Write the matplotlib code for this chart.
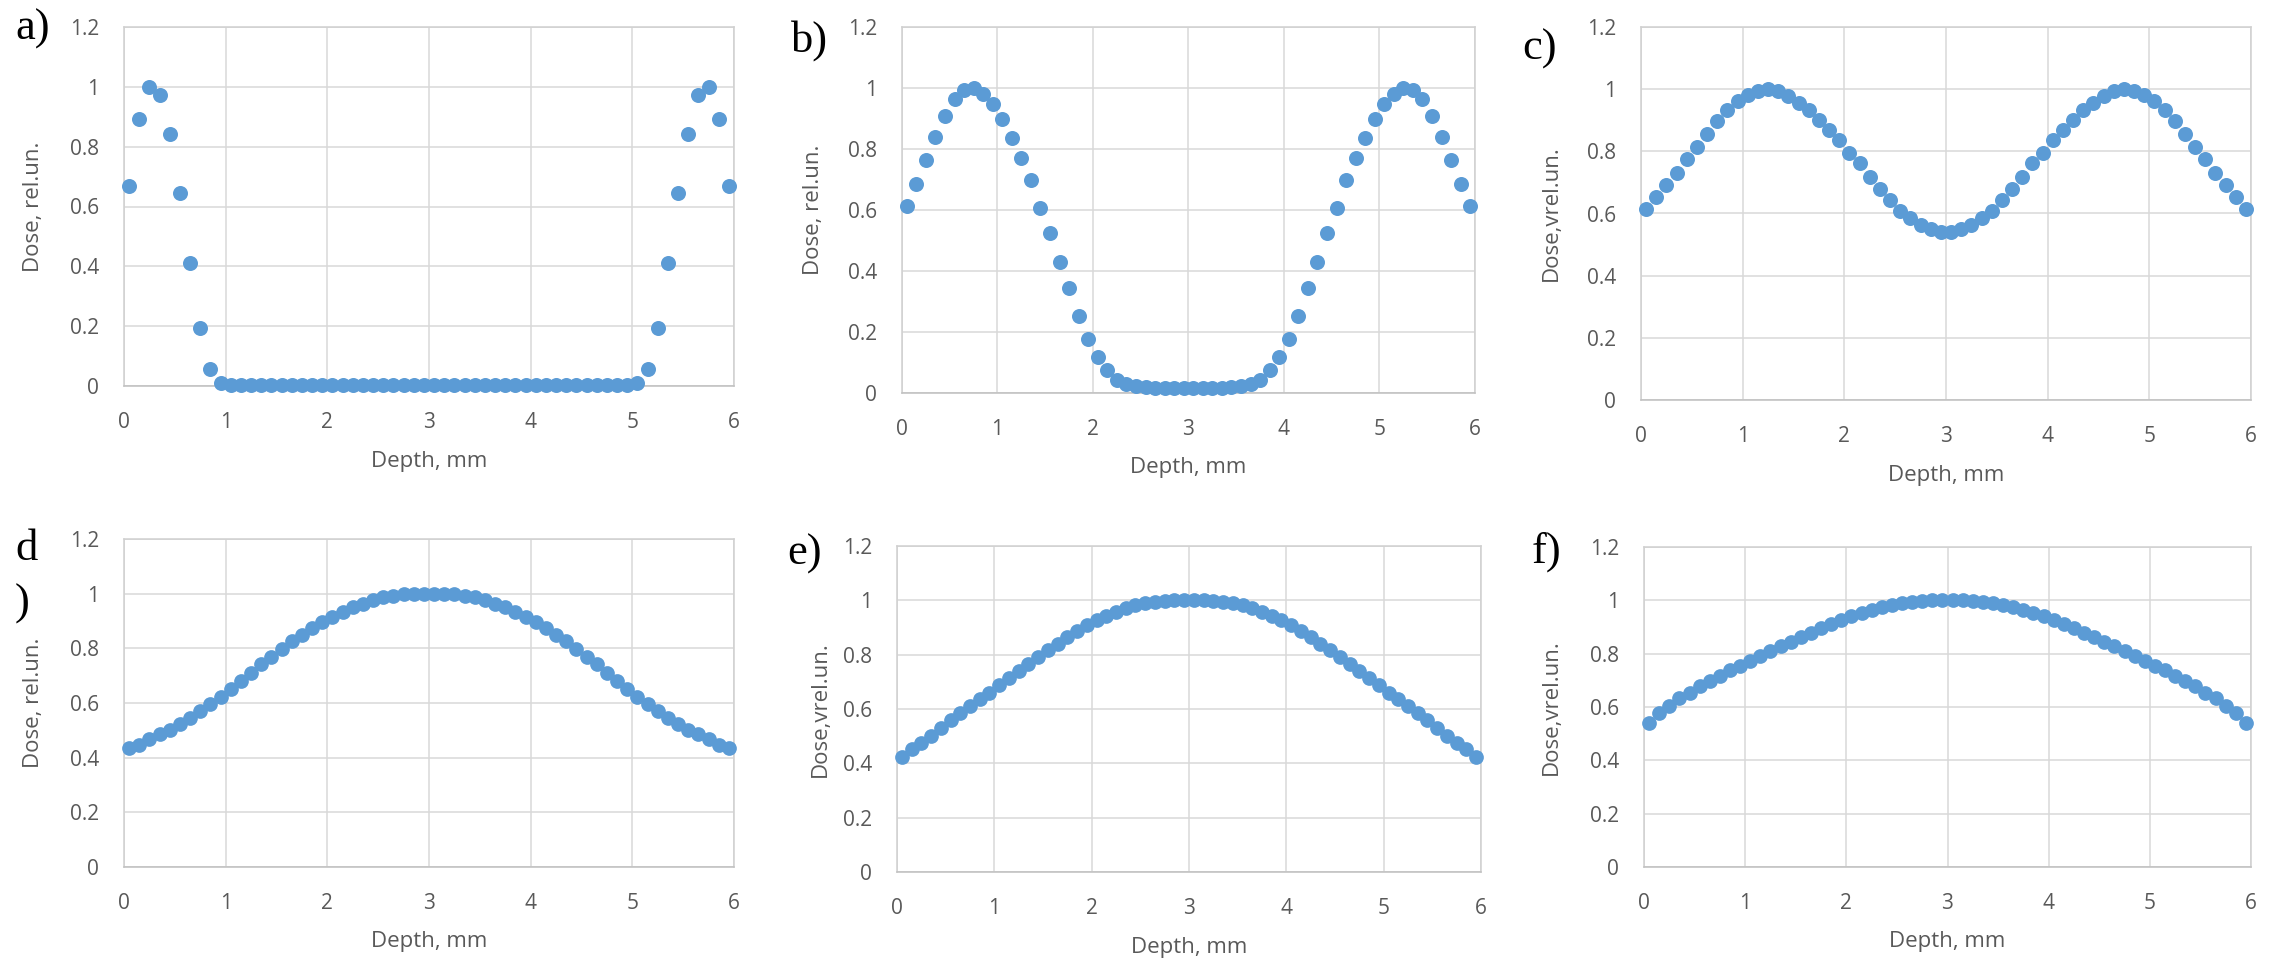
import matplotlib
matplotlib.use("Agg")
import matplotlib.pyplot as plt
from matplotlib.ticker import FuncFormatter

# Profundidad (mm) de cada punto medido
depth = [0.05, 0.15, 0.25, 0.35, 0.45, 0.55, 0.65, 0.75, 0.85, 0.95,
         1.05, 1.15, 1.25, 1.35, 1.45, 1.55, 1.65, 1.75, 1.85, 1.95,
         2.05, 2.15, 2.25, 2.35, 2.45, 2.55, 2.65, 2.75, 2.85, 2.95,
         3.05, 3.15, 3.25, 3.35, 3.45, 3.55, 3.65, 3.75, 3.85, 3.95,
         4.05, 4.15, 4.25, 4.35, 4.45, 4.55, 4.65, 4.75, 4.85, 4.95,
         5.05, 5.15, 5.25, 5.35, 5.45, 5.55, 5.65, 5.75, 5.85, 5.95]

dose_a = [0.670, 0.894, 1.000, 0.972, 0.841, 0.644, 0.410, 0.193, 0.057, 0.009,
          0.003, 0.002, 0.002, 0.002, 0.002, 0.002, 0.002, 0.002, 0.002, 0.002,
          0.002, 0.002, 0.002, 0.002, 0.002, 0.002, 0.002, 0.002, 0.002, 0.002,
          0.002, 0.002, 0.002, 0.002, 0.002, 0.002, 0.002, 0.002, 0.002, 0.002,
          0.002, 0.002, 0.002, 0.002, 0.002, 0.002, 0.002, 0.002, 0.002, 0.003,
          0.009, 0.057, 0.193, 0.410, 0.644, 0.841, 0.972, 1.000, 0.894, 0.670]

dose_b = [0.613, 0.685, 0.763, 0.840, 0.909, 0.964, 0.993, 1.000, 0.980, 0.949,
          0.898, 0.836, 0.769, 0.697, 0.605, 0.523, 0.430, 0.345, 0.254, 0.177,
          0.119, 0.074, 0.044, 0.029, 0.022, 0.019, 0.017, 0.016, 0.016, 0.016,
          0.016, 0.016, 0.016, 0.017, 0.019, 0.022, 0.029, 0.044, 0.074, 0.119,
          0.177, 0.254, 0.345, 0.430, 0.523, 0.605, 0.697, 0.769, 0.836, 0.898,
          0.949, 0.980, 1.000, 0.993, 0.964, 0.909, 0.840, 0.763, 0.685, 0.613]

dose_c = [0.614, 0.652, 0.691, 0.730, 0.774, 0.815, 0.855, 0.897, 0.932, 0.961,
          0.982, 0.994, 1.000, 0.994, 0.979, 0.956, 0.932, 0.902, 0.870, 0.838,
          0.795, 0.761, 0.716, 0.678, 0.643, 0.609, 0.584, 0.563, 0.549, 0.539,
          0.539, 0.549, 0.563, 0.584, 0.609, 0.643, 0.678, 0.716, 0.761, 0.795,
          0.838, 0.870, 0.902, 0.932, 0.956, 0.979, 0.994, 1.000, 0.994, 0.982,
          0.961, 0.932, 0.897, 0.855, 0.815, 0.774, 0.730, 0.691, 0.652, 0.614]

dose_d = [0.434, 0.448, 0.467, 0.485, 0.503, 0.524, 0.546, 0.570, 0.595, 0.621,
          0.652, 0.680, 0.710, 0.741, 0.768, 0.796, 0.826, 0.850, 0.875, 0.897,
          0.914, 0.933, 0.950, 0.963, 0.977, 0.987, 0.993, 0.998, 1.000, 1.000,
          1.000, 1.000, 0.998, 0.993, 0.987, 0.977, 0.963, 0.950, 0.933, 0.914,
          0.897, 0.875, 0.850, 0.826, 0.796, 0.768, 0.741, 0.710, 0.680, 0.652,
          0.621, 0.595, 0.570, 0.546, 0.524, 0.503, 0.485, 0.467, 0.448, 0.434]

dose_e = [0.423, 0.451, 0.475, 0.502, 0.531, 0.558, 0.584, 0.611, 0.635, 0.660,
          0.688, 0.715, 0.740, 0.767, 0.791, 0.816, 0.840, 0.865, 0.887, 0.908,
          0.926, 0.943, 0.958, 0.971, 0.982, 0.989, 0.995, 0.999, 1.000, 1.000,
          1.000, 1.000, 0.999, 0.995, 0.989, 0.982, 0.971, 0.958, 0.943, 0.926,
          0.908, 0.887, 0.865, 0.840, 0.816, 0.791, 0.767, 0.740, 0.715, 0.688,
          0.660, 0.635, 0.611, 0.584, 0.558, 0.531, 0.502, 0.475, 0.451, 0.423]

dose_f = [0.539, 0.577, 0.605, 0.633, 0.654, 0.677, 0.698, 0.718, 0.737, 0.755,
          0.774, 0.793, 0.810, 0.829, 0.845, 0.863, 0.879, 0.895, 0.911, 0.926,
          0.940, 0.953, 0.964, 0.974, 0.983, 0.989, 0.994, 0.998, 1.000, 1.000,
          1.000, 1.000, 0.998, 0.994, 0.989, 0.983, 0.974, 0.964, 0.953, 0.940,
          0.926, 0.911, 0.895, 0.879, 0.863, 0.845, 0.829, 0.810, 0.793, 0.774,
          0.755, 0.737, 0.718, 0.698, 0.677, 0.654, 0.633, 0.605, 0.577, 0.539]

xticks = [0, 1, 2, 3, 4, 5, 6]
yticks = [0, 0.2, 0.4, 0.6, 0.8, 1.0, 1.2]

plt.rcParams['font.family'] = ['Open Sans', 'DejaVu Sans']

W, H = 2279, 958
fig = plt.figure(figsize=(W / 100, H / 100), dpi=100)

blue = '#5B9BD5'
gray_text = '#595959'

# (datos, etiqueta y, letra, caja del eje en px [izq, arriba, der, abajo], x etiqueta y, tam. marcador)
panels = [
    (dose_a, 'Dose, rel.un.', 'a)', (124, 27, 734, 386), 34, 10.8),
    (dose_b, 'Dose, rel.un.', 'b)', (902, 27, 1475, 393), 813, 10.8),
    (dose_c, 'Dose,vrel.un.', 'c)', (1641, 27, 2251, 400), 1551, 10.8),
    (dose_d, 'Dose, rel.un.', 'd', (124, 539, 734, 867), 34, 10.6),
    (dose_e, 'Dose,vrel.un.', 'e)', (897, 546, 1481, 872), 820, 10.6),
    (dose_f, 'Dose,vrel.un.', 'f)', (1644, 547, 2251, 867), 1551, 10.6),
]

for dose, ylab, letter, (l, t, r, b), ylx, ms in panels:
    ax = fig.add_axes([l / W, 1 - b / H, (r - l) / W, (b - t) / H])
    ax.plot(depth, dose, 'o', color=blue, markersize=ms, markeredgewidth=0,
            clip_on=False, zorder=3)
    ax.set_xlim(0, 6)
    ax.set_ylim(0, 1.2)
    ax.set_xticks(xticks)
    ax.set_yticks(yticks)
    ax.yaxis.set_major_formatter(FuncFormatter(lambda v, p: '%g' % round(v, 1)))
    ax.grid(True, color='#D9D9D9', linewidth=1.1)
    ax.set_axisbelow(True)
    for s in ax.spines.values():
        s.set_color('#D0D0D0')
        s.set_linewidth(1.1)
    ax.spines['bottom'].set_color('#BFBFBF')
    ax.tick_params(length=0, labelsize=15, labelcolor=gray_text)
    ax.tick_params(axis='x', pad=18.5)
    ax.tick_params(axis='y', pad=18)
    # etiquetas de los ejes
    h = b - t
    ax.set_xlabel('Depth, mm', fontsize=16, color=gray_text, va='center')
    ax.xaxis.set_label_coords(0.5, -75 / h)
    fig.text(ylx / W, 1 - (t + b) / 2 / H, ylab, rotation=90, ha='center',
             va='center', fontsize=16, color=gray_text)

# letras de cada panel (Times)
serif = ['Liberation Serif', 'DejaVu Serif']
fig.text(15 / W, 1 - 40 / H, 'a)', family=serif, fontsize=32, va='baseline')
fig.text(791 / W, 1 - 52 / H, 'b)', family=serif, fontsize=32, va='baseline')
fig.text(1522 / W, 1 - 60 / H, 'c)', family=serif, fontsize=32, va='baseline')
fig.text(15 / W, 1 - 560 / H, 'd', family=serif, fontsize=32, va='baseline')
fig.text(15 / W, 1 - 615 / H, ')', family=serif, fontsize=32, va='baseline')
fig.text(787 / W, 1 - 565 / H, 'e)', family=serif, fontsize=32, va='baseline')
fig.text(1532 / W, 1 - 563 / H, 'f)', family=serif, fontsize=32, va='baseline')

fig.savefig('out.png', dpi=100, facecolor='white')
